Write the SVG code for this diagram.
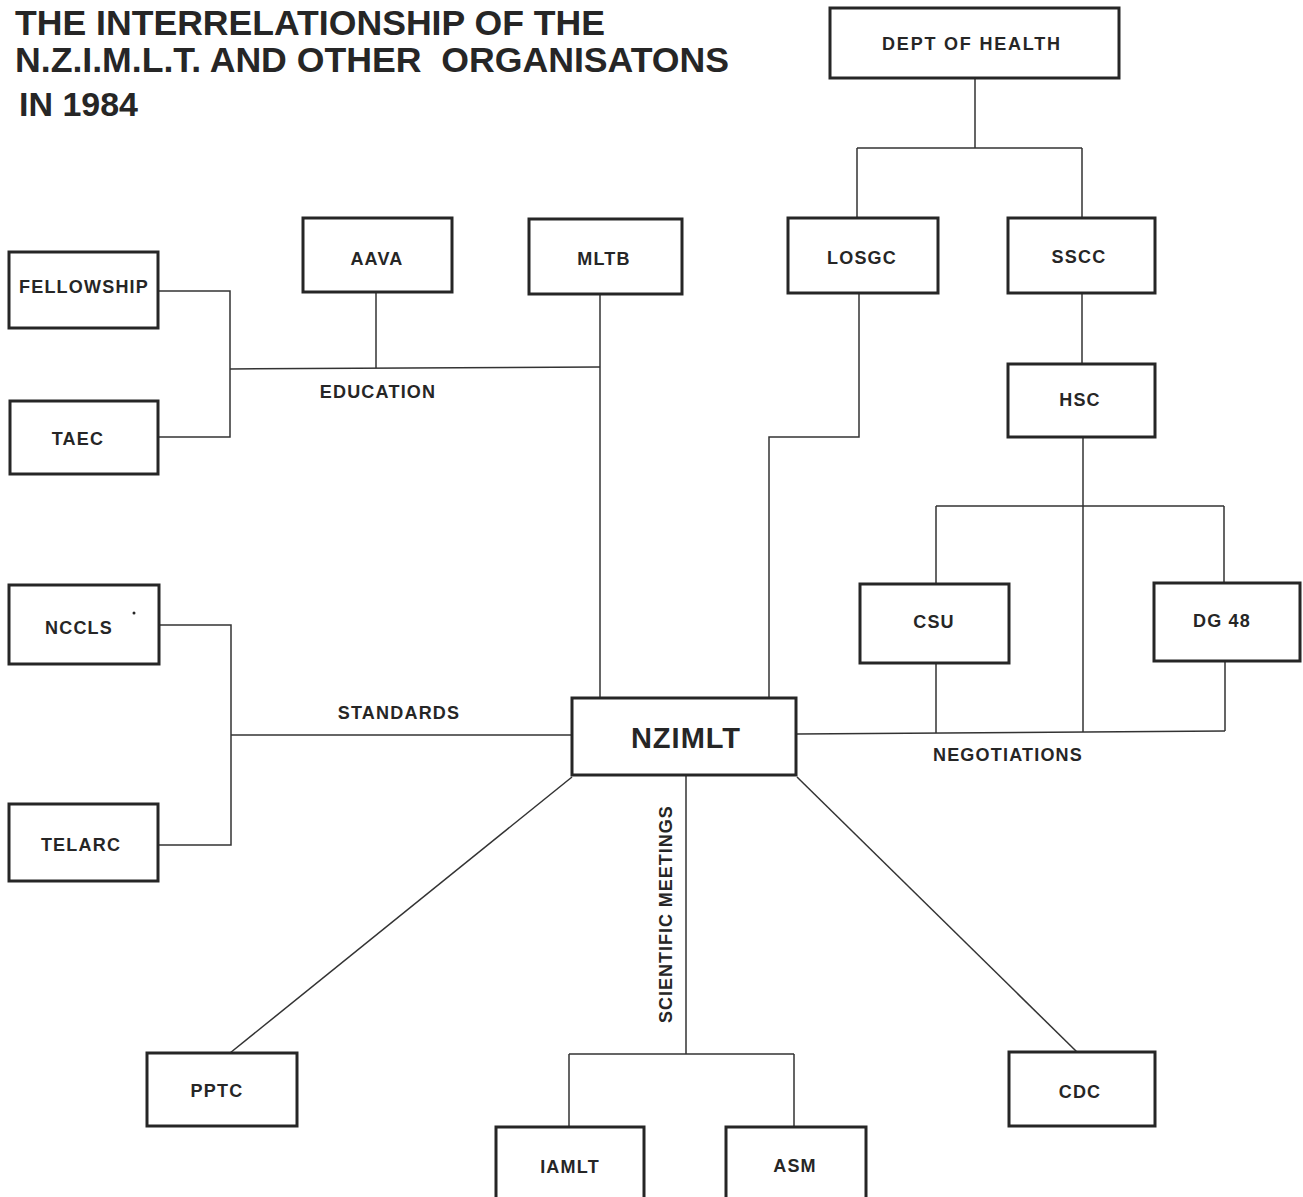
<svg xmlns="http://www.w3.org/2000/svg" width="1303" height="1197" viewBox="0 0 1303 1197">
<style>
.box{fill:#fff;stroke:#262626;stroke-width:3}
.conn{fill:none;stroke:#333;stroke-width:1.5}
.lbl{font-family:"Liberation Sans",Arial,Helvetica,sans-serif;font-weight:bold;font-size:18px;fill:#262626;text-anchor:middle;letter-spacing:1.2px}
.ttl{font-family:"Liberation Sans",Arial,Helvetica,sans-serif;font-weight:bold;fill:#262626}
.big{font-size:29px;letter-spacing:1px}
</style>
<rect width="1303" height="1197" fill="#fff"/>
<g id="title">
<text class="ttl" x="15" y="35" font-size="35" textLength="590" lengthAdjust="spacingAndGlyphs">THE INTERRELATIONSHIP OF THE</text>
<text class="ttl" x="15" y="72" font-size="35" textLength="714" lengthAdjust="spacingAndGlyphs" xml:space="preserve">N.Z.I.M.L.T. AND OTHER  ORGANISATONS</text>
<text class="ttl" x="19" y="116" font-size="33" textLength="119" lengthAdjust="spacingAndGlyphs">IN 1984</text>
</g>
<g id="connectors">
<path class="conn" d="M975 79V148M857 148H1082M857 148V218M1082 148V218"/>
<path class="conn" d="M1082 293V364"/>
<path class="conn" d="M1083 437V732"/>
<path class="conn" d="M936 506H1224M936 506V584M1224 506V583"/>
<path class="conn" d="M936 663V733M1225 661V731"/>
<path class="conn" d="M797 734L1225 731"/>
<path class="conn" d="M859 293V437H769V698"/>
<path class="conn" d="M600 294V698"/>
<path class="conn" d="M230 369L600 367"/>
<path class="conn" d="M376 293V368"/>
<path class="conn" d="M158 291H230V437H158"/>
<path class="conn" d="M159 625H231V845H158"/>
<path class="conn" d="M231 735H572"/>
<path class="conn" d="M686 775V1054M569 1054H794M569 1054V1127M794 1054V1127"/>
<path class="conn" d="M572 777L230 1053"/>
<path class="conn" d="M797 777L1077 1052"/>
</g>
<g id="labels">
<text class="lbl" x="378" y="398">EDUCATION</text>
<text class="lbl" x="399" y="719">STANDARDS</text>
<text class="lbl" x="1008" y="761">NEGOTIATIONS</text>
<text class="lbl" transform="translate(672 914) rotate(-90)" textLength="218">SCIENTIFIC MEETINGS</text>
</g>
<g id="dept-of-health"><rect class="box" x="830" y="8" width="289" height="70"/><text class="lbl" x="972" y="50" style="letter-spacing:1.8px">DEPT OF HEALTH</text></g>
<g id="aava"><rect class="box" x="303" y="218" width="149" height="74"/><text class="lbl" x="377" y="265">AAVA</text></g>
<g id="mltb"><rect class="box" x="529" y="219" width="153" height="75"/><text class="lbl" x="604" y="265">MLTB</text></g>
<g id="losgc"><rect class="box" x="788" y="218" width="150" height="75"/><text class="lbl" x="862" y="264">LOSGC</text></g>
<g id="sscc"><rect class="box" x="1008" y="218" width="147" height="75"/><text class="lbl" x="1079" y="263">SSCC</text></g>
<g id="fellowship"><rect class="box" x="9" y="252" width="149" height="76"/><text class="lbl" x="84" y="293">FELLOWSHIP</text></g>
<g id="taec"><rect class="box" x="10" y="401" width="148" height="73"/><text class="lbl" x="78" y="445">TAEC</text></g>
<g id="hsc"><rect class="box" x="1008" y="364" width="147" height="73"/><text class="lbl" x="1080" y="406">HSC</text></g>
<g id="csu"><rect class="box" x="860" y="584" width="149" height="79"/><text class="lbl" x="934" y="628">CSU</text></g>
<g id="dg48"><rect class="box" x="1154" y="583" width="146" height="78"/><text class="lbl" x="1222" y="627">DG 48</text></g>
<g id="nccls"><rect class="box" x="9" y="585" width="150" height="79"/><text class="lbl" x="79" y="634">NCCLS</text><circle cx="134" cy="613" r="1.5" fill="#262626"/></g>
<g id="nzimlt"><rect class="box" x="572" y="698" width="224" height="77"/><text class="lbl big" x="686" y="748">NZIMLT</text></g>
<g id="telarc"><rect class="box" x="9" y="804" width="149" height="77"/><text class="lbl" x="81" y="851">TELARC</text></g>
<g id="pptc"><rect class="box" x="147" y="1053" width="150" height="73"/><text class="lbl" x="217" y="1097">PPTC</text></g>
<g id="iamlt"><rect class="box" x="496" y="1127" width="148" height="82"/><text class="lbl" x="570" y="1173">IAMLT</text></g>
<g id="asm"><rect class="box" x="726" y="1127" width="140" height="82"/><text class="lbl" x="795" y="1172">ASM</text></g>
<g id="cdc"><rect class="box" x="1009" y="1052" width="146" height="74"/><text class="lbl" x="1080" y="1098">CDC</text></g>
</svg>
